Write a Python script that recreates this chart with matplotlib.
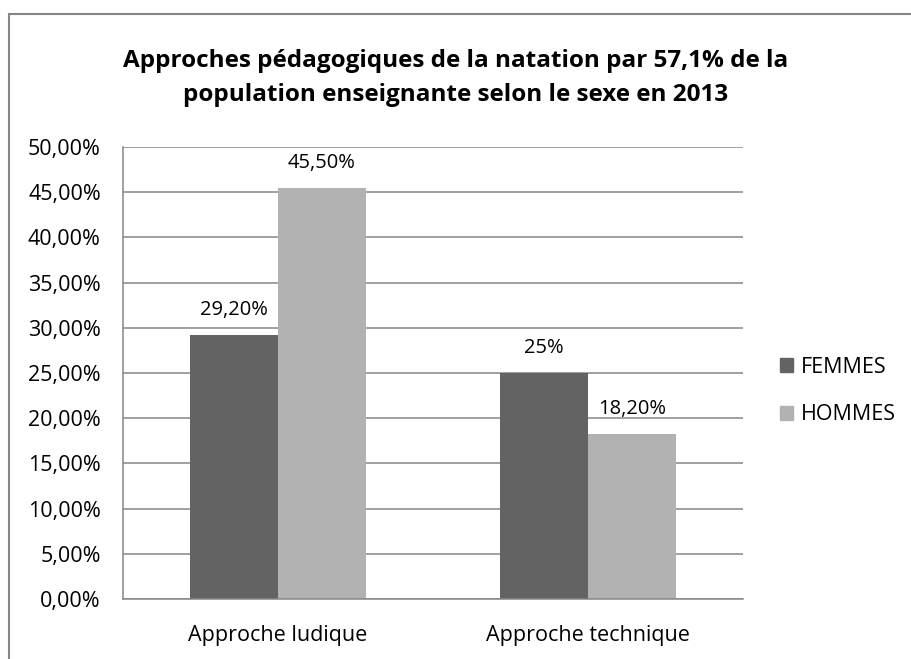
import numpy as np
import matplotlib.pyplot as plt
from matplotlib.patches import Rectangle, Patch
from matplotlib.ticker import FuncFormatter

plt.rcParams['font.family'] = ['Open Sans', 'DejaVu Sans']

# ---- données ----
categories = ['Approche ludique', 'Approche technique']
femmes = [29.2, 25.0]
hommes = [45.5, 18.2]
femmes_labels = ['29,20%', '25%']
hommes_labels = ['45,50%', '18,20%']
series_names = ['FEMMES', 'HOMMES']
title = ('Approches pédagogiques de la natation par 57,1% de la\n'
         'population enseignante selon le sexe en 2013')

c_femmes = '#636363'
c_hommes = '#b2b2b2'
c_grid = '#868686'

fig = plt.figure(figsize=(9.12, 6.59), dpi=100)
ax = fig.add_axes([123 / 912, 60 / 659, 620 / 912, 452 / 659])

# cadre du graphique (sort de l'image à droite et en bas)
fig.patches.append(Rectangle((9 / 912, -0.2), 1.5, 0.2 + 645 / 659, transform=fig.transFigure,
                             fill=False, edgecolor=c_grid, linewidth=1.5))

x = np.arange(len(categories))
w = 0.284
b1 = ax.bar(x - w / 2, femmes, w, color=c_femmes, zorder=3)
b2 = ax.bar(x + w / 2, hommes, w, color=c_hommes, zorder=3)

for bars, labs in [(b1, femmes_labels), (b2, hommes_labels)]:
    for bar, lab in zip(bars, labs):
        ax.annotate(lab, (bar.get_x() + bar.get_width() / 2, bar.get_height()),
                    xytext=(0, 18), textcoords='offset points',
                    ha='center', va='center', fontsize=14.5)

ax.set_xlim(-0.5, 1.5)
ax.set_ylim(0, 50)
ax.set_yticks(np.arange(0, 51, 5))
ax.yaxis.set_major_formatter(FuncFormatter(lambda v, p: f'{v:.2f}%'.replace('.', ',')))
ax.set_xticks(x)
ax.set_xticklabels(categories)
ax.tick_params(axis='y', length=0, pad=16, labelsize=15.5)
ax.tick_params(axis='x', length=0, pad=19, labelsize=15.5)

ax.grid(axis='y', color=c_grid, linewidth=1.1, zorder=0)
for s in ['top', 'right']:
    ax.spines[s].set_visible(False)
for s in ['left', 'bottom']:
    ax.spines[s].set_color(c_grid)
    ax.spines[s].set_linewidth(1.1)
    ax.spines[s].set_zorder(4)

fig.text(0.5, 1 - 78 / 659, title, ha='center', va='center', fontsize=17.5,
         fontweight='bold', linespacing=1.55)

handles = [Patch(color=c_femmes), Patch(color=c_hommes)]
fig.legend(handles, series_names, loc='center left', bbox_to_anchor=(780 / 912, 1 - 391 / 659),
           frameon=False, fontsize=15.5, handlelength=0.6, handleheight=0.6,
           handletextpad=0.35, labelspacing=1.25, borderpad=0, borderaxespad=0)

fig.savefig('out.png', dpi=100)
